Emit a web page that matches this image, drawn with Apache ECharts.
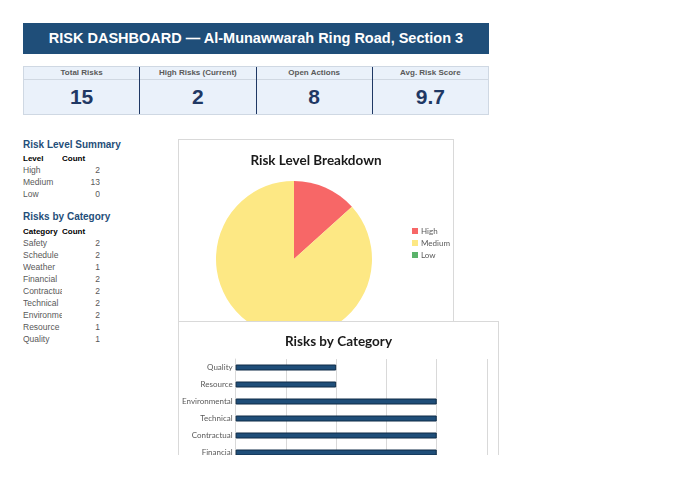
<!DOCTYPE html>
<html lang="en">
<head>
    <meta charset="UTF-8">
    <title>Risk Dashboard</title>
    <script src="https://cdn.jsdelivr.net/npm/echarts@6/dist/echarts.min.js"></script>
<style>
    *{
        padding:0;
        margin:0;
    }
    body{
        background:#fff;
        font-family:"Liberation Sans", Arial, sans-serif;
    }
    .page{
        position:relative;
        width:680px;
        height:455px;
        overflow:hidden;
    }
    .banner{
        position:absolute;
        left:23px;top:23px;
        width:466px;height:31px;
        background:#1f4e79;
        color:#fff;
        font-weight:bold;
        font-size:14.5px;
        line-height:31px;
        text-align:center;
    }
    .kpi{
        position:absolute;
        left:23px;top:66px;
        width:466px;height:49px;
        background:#eaf1fa;
        border:1px solid #cfd8e3;
        box-sizing:border-box;
        display:flex;
    }
    .kpi .cell{
        flex:1;
        border-left:1px solid #1f3864;
        text-align:center;
    }
    .kpi .cell:first-child{ border-left:none; }
    .kpi .hd{
        height:12px;
        line-height:12px;
        font-size:8px;
        font-weight:bold;
        color:#595959;
        border-bottom:1px solid #d0d8e2;
    }
    .kpi .val{
        line-height:34px;
        font-size:21px;
        font-weight:bold;
        color:#1f3864;
    }
    .sect{
        position:absolute;
        left:23px;
        font-size:10px;
        color:#1f4e79;
        font-weight:bold;
    }
    table.lst{
        position:absolute;
        left:23px;
        border-collapse:collapse;
        font-size:8.5px;
        color:#595959;
    }
    table.lst td{
        height:12px;
        padding:0;
        white-space:nowrap;
        overflow:hidden;
    }
    table.lst td.k{ width:39px; max-width:39px; }
    table.lst td.v{ width:38px; text-align:right; }
    table.lst tr.h td{ color:#000; font-weight:bold; text-align:left; font-size:8px; }
    .box{
        position:absolute;
        background:#fff;
        border:1px solid #d9d9d9;
        box-sizing:border-box;
    }
    #pieBox{ left:178px; top:139px; width:276px; height:184px; }
    #barBox{ left:178px; top:321px; width:321px; height:220px; z-index:2; }
</style>
</head>
<body>
<div class="page">
    <div class="banner" id="banner"></div>
    <div class="kpi" id="kpi"></div>

    <div class="sect" style="top:139px;">Risk Level Summary</div>
    <table class="lst" id="lvlTable" style="top:152px;"></table>

    <div class="sect" style="top:211px;">Risks by Category</div>
    <table class="lst" id="catTable" style="top:225px;"></table>

    <div class="box" id="pieBox"></div>
    <div class="box" id="barBox"></div>
</div>
<script type="text/javascript">
    var titleText = 'RISK DASHBOARD \u2014 Al-Munawwarah Ring Road, Section 3';

    var kpiLabels = ['Total Risks', 'High Risks (Current)', 'Open Actions', 'Avg. Risk Score'];
    var kpiValues = ['15', '2', '8', '9.7'];

    var levelNames = ['High', 'Medium', 'Low'];
    var levelCounts = [2, 13, 0];
    var levelColors = ['#f76767', '#fde884', '#5bb36b'];

    var categoryNames = ['Safety', 'Schedule', 'Weather', 'Financial', 'Contractual', 'Technical', 'Environmental', 'Resource', 'Quality'];
    var categoryCounts = [2, 2, 1, 2, 2, 2, 2, 1, 1];

    document.getElementById('banner').textContent = titleText;

    var kpiHtml = '';
    for (var i = 0; i < kpiLabels.length; i++) {
        kpiHtml += '<div class="cell"><div class="hd">' + kpiLabels[i] + '</div><div class="val">' + kpiValues[i] + '</div></div>';
    }
    document.getElementById('kpi').innerHTML = kpiHtml;

    function fillTable(id, head1, names, counts, headPad) {
        var html = '<tr class="h"><td class="k" style="overflow:visible">' + head1 + '</td><td class="v" style="text-align:left;padding-left:' + headPad + 'px">Count</td></tr>';
        for (var i = 0; i < names.length; i++) {
            html += '<tr><td class="k">' + names[i] + '</td><td class="v">' + counts[i] + '</td></tr>';
        }
        document.getElementById(id).innerHTML = html;
    }
    fillTable('lvlTable', 'Level', levelNames, levelCounts, 0);
    fillTable('catTable', 'Category', categoryNames, categoryCounts, 0);

    var chartFont = 'Lato, "Open Sans", sans-serif';

    // pie
    var pie = echarts.init(document.getElementById('pieBox'));
    var pieData = [];
    for (var i = 0; i < levelNames.length; i++) {
        pieData.push({ name: levelNames[i], value: levelCounts[i], itemStyle: { color: levelColors[i] } });
    }
    pie.setOption({
        animation: false,
        textStyle: { fontFamily: chartFont },
        title: {
            text: 'Risk Level Breakdown',
            left: 'center',
            top: 9,
            textStyle: { fontSize: 13.5, fontWeight: 'bold', color: '#1a1a1a', fontFamily: chartFont }
        },
        legend: {
            orient: 'vertical',
            left: 233,
            top: 87,
            padding: 0,
            itemWidth: 6,
            itemHeight: 6,
            itemGap: 4,
            icon: 'rect',
            textStyle: { fontSize: 8, color: '#595959', padding: [0, 0, 0, -2] },
            data: levelNames
        },
        series: [{
            type: 'pie',
            center: [115, 119],
            radius: 78,
            startAngle: 90,
            label: { show: false },
            labelLine: { show: false },
            stillShowZeroSum: true,
            data: pieData
        }]
    });

    // bar
    var bar = echarts.init(document.getElementById('barBox'));
    bar.setOption({
        animation: false,
        textStyle: { fontFamily: chartFont },
        title: {
            text: 'Risks by Category',
            left: 'center',
            top: 8,
            textStyle: { fontSize: 13.5, fontWeight: 'bold', color: '#1a1a1a', fontFamily: chartFont }
        },
        grid: { left: 55, right: 11, top: 37, height: 153 },
        xAxis: {
            type: 'value',
            min: 0,
            max: 2.5,
            interval: 0.5,
            axisLine: { show: false },
            axisTick: { show: false },
            axisLabel: { fontSize: 8, color: '#595959' },
            splitLine: { lineStyle: { color: '#d9d9d9' } }
        },
        yAxis: {
            type: 'category',
            data: categoryNames,
            axisLine: { lineStyle: { color: '#d9d9d9' } },
            axisTick: { show: false },
            axisLabel: { fontSize: 8, color: '#595959', margin: 3 }
        },
        series: [{
            type: 'bar',
            data: categoryCounts,
            barWidth: 6,
            itemStyle: { color: '#1f4e79', borderColor: '#0f2b47', borderWidth: 1 }
        }]
    });
</script>
</body>
</html>
